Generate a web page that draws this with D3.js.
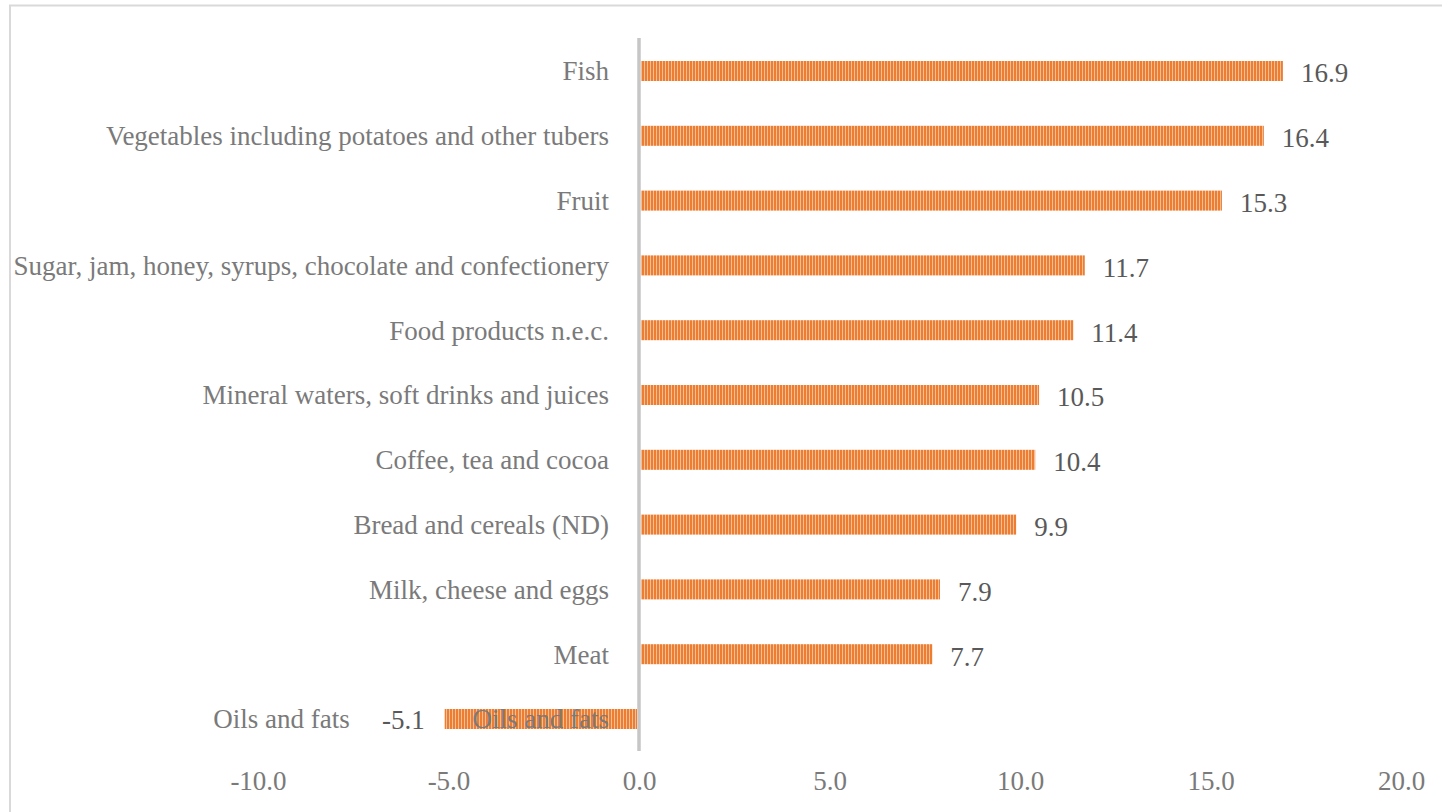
<!DOCTYPE html>
<html>
<head>
<meta charset="utf-8">
<script src="https://cdn.jsdelivr.net/npm/d3@7"></script>
<style>
  html, body { margin: 0; padding: 0; background: #fff; }
  svg { display: block; }
</style>
</head>
<body>
<svg id="chart" width="1442" height="812"></svg>
<script>
// Price change by food category (%)
const categories = [
  "Fish",
  "Vegetables including potatoes and other tubers",
  "Fruit",
  "Sugar, jam, honey, syrups, chocolate and confectionery",
  "Food products n.e.c.",
  "Mineral waters, soft drinks and juices",
  "Coffee, tea and cocoa",
  "Bread and cereals (ND)",
  "Milk, cheese and eggs",
  "Meat",
  "Oils and fats"
];
const values = [16.9, 16.4, 15.3, 11.7, 11.4, 10.5, 10.4, 9.9, 7.9, 7.7, -5.1];
const xTicks = [-10, -5, 0, 5, 10, 15, 20];

const svg = d3.select("#chart");
const font = "'Liberation Serif', 'Times New Roman', serif";
const fs = 27;
const fmt = d => d3.format(".1f")(d).replace("\u2212", "-");

// Chart frame
svg.append("rect")
  .attr("x", 10).attr("y", 5.5)
  .attr("width", 1440).attr("height", 820)
  .attr("fill", "none")
  .attr("stroke", "#d9d9d9")
  .attr("stroke-width", 2);

// Narrow vertical stripe fill for the bars
const defs = svg.append("defs");
const pat = defs.append("pattern")
  .attr("id", "vstripe")
  .attr("patternUnits", "userSpaceOnUse")
  .attr("width", 3).attr("height", 10);
pat.append("rect").attr("width", 3).attr("height", 10).attr("fill", "#ED7D31");
pat.append("rect").attr("x", 2).attr("width", 1).attr("height", 10).attr("fill", "#F6BE96");

const x = d3.scaleLinear().domain([-10, 20]).range([258, 1401]);
const y = d3.scaleBand().domain(categories).range([38.6, 751.4]).paddingInner(0.69).paddingOuter(0.345);

const barH = 20;
const bars = svg.append("g");
bars.selectAll("rect")
  .data(values)
  .join("rect")
  .attr("x", d => Math.min(x(0), x(d)) + (d >= 0 ? 2 : 0))
  .attr("y", (d, i) => y(categories[i]) + y.bandwidth() / 2 - barH / 2)
  .attr("width", d => Math.abs(x(d) - x(0)) - 2)
  .attr("height", barH)
  .attr("fill", "url(#vstripe)");

// Category axis line at zero
svg.append("line")
  .attr("x1", x(0)).attr("x2", x(0))
  .attr("y1", 38).attr("y2", 751)
  .attr("stroke", "#c6c6c6")
  .attr("stroke-width", 3.5);

// Category labels
svg.append("g").selectAll("text")
  .data(categories)
  .join("text")
  .attr("x", 609)
  .attr("y", d => y(d) + y.bandwidth() / 2)
  .attr("dy", "0.35em")
  .attr("text-anchor", "end")
  .attr("font-family", font)
  .attr("font-size", fs)
  .attr("fill", "#7a7a7a")
  .text(d => d);

// Value labels
const valueLabels = svg.append("g");
values.forEach((v, i) => {
  const cy = y(categories[i]) + y.bandwidth() / 2;
  if (v >= 0) {
    valueLabels.append("text")
      .attr("x", x(v) + 18)
      .attr("y", cy + 2)
      .attr("dy", "0.35em")
      .attr("font-family", font)
      .attr("font-size", fs)
      .attr("fill", "#595959")
      .text(fmt(v));
  } else {
    valueLabels.append("text")
      .attr("x", x(v) - 20)
      .attr("y", cy + 1)
      .attr("dy", "0.35em")
      .attr("text-anchor", "end")
      .attr("font-family", font)
      .attr("font-size", fs)
      .attr("fill", "#595959")
      .text(fmt(v));
    valueLabels.append("text")
      .attr("x", x(v) - 95)
      .attr("y", cy)
      .attr("dy", "0.35em")
      .attr("text-anchor", "end")
      .attr("font-family", font)
      .attr("font-size", fs)
      .attr("fill", "#7a7a7a")
      .text(categories[i]);
  }
});

// Value axis tick labels
const xAxis = d3.axisBottom(x)
  .tickValues(xTicks)
  .tickFormat(fmt)
  .tickSize(0)
  .tickPadding(0);
const gx = svg.append("g")
  .attr("transform", "translate(0,771)")
  .call(xAxis);
gx.select(".domain").remove();
gx.selectAll("text")
  .attr("font-family", font)
  .attr("font-size", fs)
  .attr("fill", "#7a7a7a");
</script>
</body>
</html>
